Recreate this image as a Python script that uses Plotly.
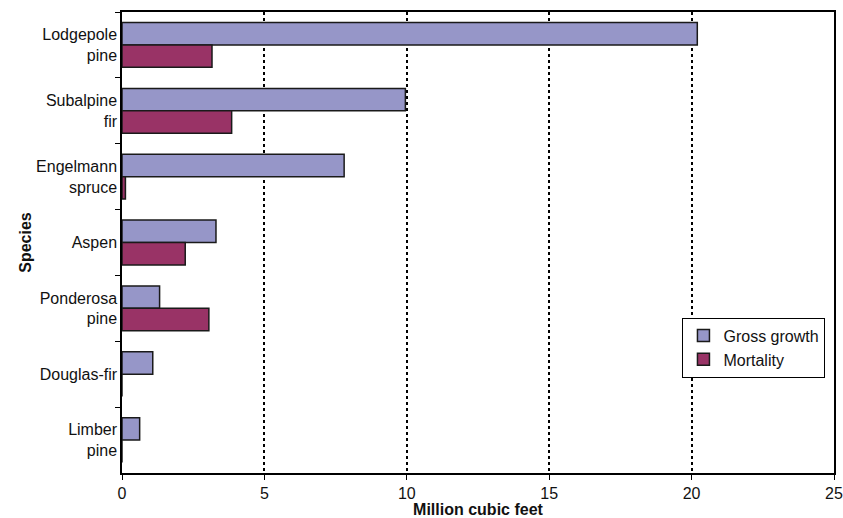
import plotly.graph_objects as go

species = ["Lodgepole<br>pine", "Subalpine<br>fir", "Engelmann<br>spruce", "Aspen",
           "Ponderosa<br>pine", "Douglas-fir", "Limber<br>pine"]
gross_growth = [20.2, 9.95, 7.8, 3.3, 1.32, 1.08, 0.62]
mortality = [3.16, 3.85, 0.12, 2.22, 3.05, 0.0, 0.0]
x_ticks = [0, 5, 10, 15, 20, 25]

FONT = "Liberation Sans, Arial, Helvetica, sans-serif"

fig = go.Figure()
fig.add_trace(go.Bar(y=species, x=gross_growth, orientation="h", name="Gross growth",
                     marker=dict(color="#9696C8", line=dict(color="#1a1a1a", width=1.5))))
fig.add_trace(go.Bar(y=species, x=mortality, orientation="h", name="Mortality",
                     marker=dict(color="#993366", line=dict(color="#1a1a1a", width=1.5))))

fig.update_layout(
    width=843, height=518,
    margin=dict(l=122, r=9, t=12, b=45, autoexpand=False),
    paper_bgcolor="white", plot_bgcolor="white",
    barmode="group", bargap=0.32, bargroupgap=0,
    font=dict(family=FONT, size=16, color="#111"),
    legend=dict(x=0.988, y=0.337, xanchor="right", yanchor="top",
                bordercolor="black", borderwidth=1, bgcolor="white",
                font=dict(size=16), tracegroupgap=0, itemwidth=30),
    showlegend=True,
)
fig.update_xaxes(
    range=[0, 25], tickvals=x_ticks, ticktext=[str(v) for v in x_ticks],
    showline=True, linecolor="black", linewidth=1.5, mirror=True,
    ticks="outside", ticklen=5, tickcolor="black", automargin=False,
    showgrid=True, gridcolor="black", gridwidth=2, griddash="3px,3px",
    zeroline=False,
    title=dict(text="<b>Million cubic feet</b>", font=dict(size=16), standoff=2),
)
fig.update_yaxes(
    autorange="reversed", tickson="boundaries", automargin=False,
    showline=True, linecolor="black", linewidth=1.5, mirror=True,
    ticks="outside", ticklen=5, tickcolor="black",
    showgrid=False,
    title=dict(text="<b>Species</b>", font=dict(size=16), standoff=0),
)

fig.write_html("out.html", config={"displayModeBar": False},
               post_script="document.body.style.margin='0';document.body.style.padding='0';document.body.style.overflow='hidden';")
